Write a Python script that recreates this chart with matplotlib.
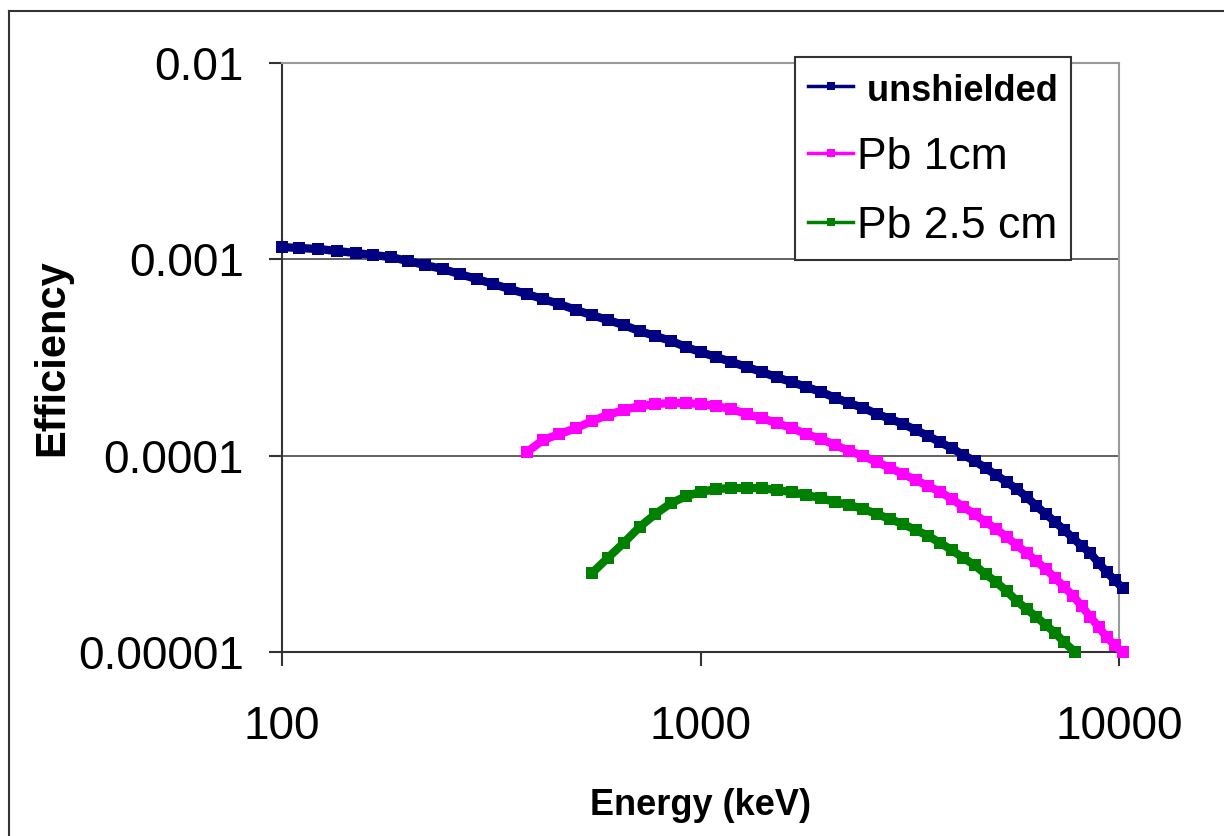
import numpy as np
import matplotlib
matplotlib.use("Agg")
import matplotlib.pyplot as plt
from matplotlib.lines import Line2D

plt.rcParams['font.family'] = ['Liberation Sans', 'DejaVu Sans']

# Energy (keV) and efficiency
e_unshielded = [100, 110, 122, 135, 150, 165, 182, 200, 220, 242, 266, 292, 320, 350,
                385, 420, 460, 505, 550, 600, 655, 715, 780, 850, 925, 1000, 1090, 1185,
                1290, 1400, 1520, 1650, 1790, 1940, 2100, 2270, 2450, 2640, 2840, 3050,
                3270, 3500, 3740, 3990, 4250, 4520, 4800, 5090, 5390, 5700, 6020, 6350,
                6690, 7040, 7400, 7770, 8150, 8540, 8940, 9350, 9770, 10200]
eff_unshielded = [1.155e-3, 1.142e-3, 1.129e-3, 1.103e-3, 1.077e-3, 1.052e-3, 1.027e-3,
                  9.80e-4, 9.35e-4, 8.93e-4, 8.41e-4, 7.94e-4, 7.48e-4, 7.06e-4, 6.65e-4,
                  6.28e-4, 5.92e-4, 5.51e-4, 5.20e-4, 4.91e-4, 4.63e-4, 4.31e-4, 4.07e-4,
                  3.84e-4, 3.57e-4, 3.37e-4, 3.18e-4, 3.00e-4, 2.83e-4, 2.67e-4, 2.51e-4,
                  2.37e-4, 2.24e-4, 2.11e-4, 1.97e-4, 1.85e-4, 1.75e-4, 1.63e-4, 1.54e-4,
                  1.45e-4, 1.35e-4, 1.26e-4, 1.17e-4, 1.09e-4, 1.007e-4, 9.39e-5, 8.65e-5,
                  7.96e-5, 7.34e-5, 6.76e-5, 6.15e-5, 5.53e-5, 5.04e-5, 4.59e-5, 4.18e-5,
                  3.80e-5, 3.46e-5, 3.19e-5, 2.84e-5, 2.55e-5, 2.32e-5, 2.12e-5]

e_pb1 = [385, 420, 460, 505, 550, 600, 655, 715, 780, 850, 925, 1000, 1090, 1185, 1290,
         1400, 1520, 1650, 1790, 1940, 2100, 2270, 2450, 2640, 2840, 3050, 3270, 3500,
         3740, 3990, 4250, 4520, 4800, 5090, 5390, 5700, 6020, 6350, 6690, 7040, 7400,
         7770, 8150, 8540, 8940, 9350, 9770, 10200]
eff_pb1 = [1.043e-4, 1.201e-4, 1.288e-4, 1.382e-4, 1.501e-4, 1.610e-4, 1.707e-4, 1.789e-4,
           1.831e-4, 1.854e-4, 1.854e-4, 1.831e-4, 1.789e-4, 1.727e-4, 1.629e-4, 1.554e-4,
           1.466e-4, 1.382e-4, 1.288e-4, 1.215e-4, 1.132e-4, 1.055e-4, 9.95e-5, 9.28e-5,
           8.65e-5, 8.06e-5, 7.51e-5, 7.00e-5, 6.53e-5, 6.01e-5, 5.47e-5, 5.04e-5, 4.59e-5,
           4.23e-5, 3.85e-5, 3.50e-5, 3.19e-5, 2.90e-5, 2.64e-5, 2.38e-5, 2.14e-5, 1.93e-5,
           1.71e-5, 1.51e-5, 1.34e-5, 1.19e-5, 1.08e-5, 1.0e-5]

e_pb25 = [550, 600, 655, 715, 780, 850, 925, 1000, 1090, 1185, 1290, 1400, 1520, 1650,
          1790, 1940, 2100, 2270, 2450, 2640, 2840, 3050, 3270, 3500, 3740, 3990, 4250,
          4520, 4800, 5090, 5390, 5700, 6020, 6350, 6690, 7040, 7400, 7850]
eff_pb25 = [2.52e-5, 3.01e-5, 3.59e-5, 4.33e-5, 5.04e-5, 5.73e-5, 6.22e-5, 6.53e-5,
            6.76e-5, 6.84e-5, 6.84e-5, 6.84e-5, 6.68e-5, 6.53e-5, 6.30e-5, 6.08e-5,
            5.80e-5, 5.60e-5, 5.35e-5, 5.04e-5, 4.75e-5, 4.48e-5, 4.18e-5, 3.90e-5,
            3.59e-5, 3.30e-5, 3.01e-5, 2.77e-5, 2.49e-5, 2.27e-5, 2.04e-5, 1.82e-5,
            1.65e-5, 1.51e-5, 1.37e-5, 1.25e-5, 1.12e-5, 1.0e-5]

labels = [' unshielded', 'Pb 1cm', 'Pb 2.5 cm']
colors = ['#000080', '#ff00ff', '#008000']
x_ticks = [100, 1000, 10000]
x_ticklabels = ['100', '1000', '10000']
y_ticks = [1e-5, 1e-4, 1e-3, 1e-2]
y_ticklabels = ['0.00001', '0.0001', '0.001', '0.01']

W, H = 1224, 836
fig = plt.figure(figsize=(W / 100, H / 100), dpi=100)
ax = fig.add_axes([282 / W, 1 - 652 / H, (1119 - 282) / W, (652 - 63) / H])

for xs, ys, lab, col in zip([e_unshielded, e_pb1, e_pb25],
                            [eff_unshielded, eff_pb1, eff_pb25], labels, colors):
    ax.plot(xs, ys, color=col, lw=6, marker='s', ms=8, mew=0, label=lab,
            clip_on=False, zorder=3)

ax.set_xscale('log')
ax.set_yscale('log')
ax.set_xlim(100, 10000)
ax.set_ylim(1e-5, 1e-2)
ax.set_xticks(x_ticks)
ax.set_xticklabels(x_ticklabels)
ax.set_yticks(y_ticks)
ax.set_yticklabels(y_ticklabels)
ax.minorticks_off()
ax.tick_params(axis='x', length=10, width=1.5, color='#333333', labelsize=33, pad=28)
ax.tick_params(axis='y', length=9.5, width=1.5, color='#333333', labelsize=33, pad=18)

ax.grid(axis='y', color='#555555', lw=1.3)
ax.set_axisbelow(True)
for side in ['left', 'bottom']:
    ax.spines[side].set_color('#333333')
    ax.spines[side].set_linewidth(1.5)
for side in ['top', 'right']:
    ax.spines[side].set_color('#9a9a9a')
    ax.spines[side].set_linewidth(1.5)

ax.set_xlabel('Energy (keV)', fontsize=26, fontweight='bold', labelpad=28)
ax.set_ylabel('Efficiency', fontsize=30, fontweight='bold', labelpad=4)

leg = ax.legend(loc='upper left', bbox_to_anchor=(795 / W, 1 - 57 / H),
                bbox_transform=fig.transFigure, fontsize=32, frameon=True,
                fancybox=False, edgecolor='#333333', framealpha=1,
                handlelength=1.0, handletextpad=0.1, labelspacing=0.62,
                borderpad=0.3, borderaxespad=0)
leg.get_frame().set_linewidth(1.5)
leg.get_texts()[0].set_fontweight('bold')
leg.get_texts()[0].set_fontsize(26)
for h in leg.legend_handles:
    h.set_linewidth(2.5)
    h.set_markersize(6)

# outer chart frame
fig.add_artist(Line2D([9 / W, 9 / W], [0, 1 - 11 / H], color='#333333', lw=1.5))
fig.add_artist(Line2D([9 / W, 1], [1 - 11 / H, 1 - 11 / H], color='#333333', lw=1.5))

fig.savefig('out.png', dpi=100)
